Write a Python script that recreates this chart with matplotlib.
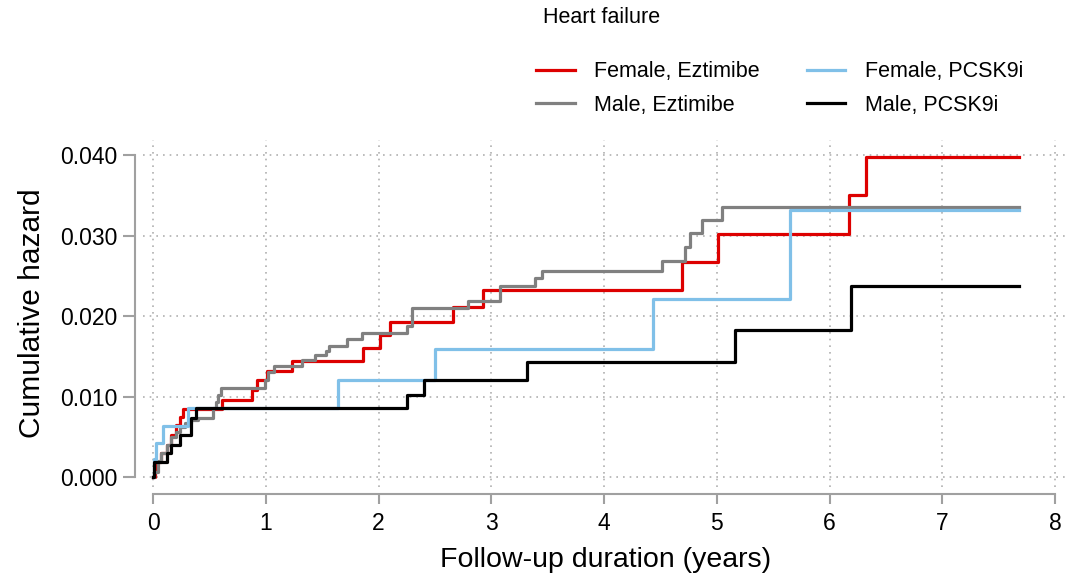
import numpy as np
import matplotlib
matplotlib.use('Agg')
import matplotlib.pyplot as plt

# step data (years, cumulative hazard)
fe_t = [0, 0.02, 0.07, 0.12, 0.16, 0.20, 0.24, 0.27, 0.61, 0.88, 0.92, 1.01, 1.23,
        1.86, 2.01, 2.10, 2.66, 2.93, 4.69, 5.01, 6.17, 6.32, 7.68]
fe_h = [0, 0.0019, 0.0030, 0.0040, 0.0052, 0.0065, 0.0075, 0.0084, 0.0096, 0.0108,
        0.0120, 0.0132, 0.0144, 0.0160, 0.0176, 0.0193, 0.0211, 0.0232, 0.0267,
        0.0302, 0.0350, 0.0398, 0.0398]

me_t = [0, 0.01, 0.04, 0.07, 0.12, 0.16, 0.20, 0.24, 0.28, 0.34, 0.40, 0.53, 0.56,
        0.58, 0.60, 0.99, 1.02, 1.07, 1.32, 1.44, 1.53, 1.56, 1.72, 1.85, 2.25,
        2.30, 2.79, 3.08, 3.39, 3.45, 4.51, 4.72, 4.76, 4.87, 5.05, 7.68]
me_h = [0, 0.0006, 0.0020, 0.0030, 0.0040, 0.0050, 0.0056, 0.0062, 0.0067, 0.0071,
        0.0073, 0.0086, 0.0093, 0.0102, 0.0110, 0.0121, 0.0130, 0.0138, 0.0145,
        0.0151, 0.0156, 0.0163, 0.0172, 0.0179, 0.0188, 0.0210, 0.0219, 0.0237,
        0.0247, 0.0256, 0.0268, 0.0286, 0.0303, 0.0319, 0.0336, 0.0336]

fp_t = [0, 0.01, 0.03, 0.09, 0.31, 1.64, 2.50, 4.43, 5.65, 7.68]
fp_h = [0, 0.0022, 0.0042, 0.0063, 0.0086, 0.0120, 0.0159, 0.0221, 0.0332, 0.0332]

mp_t = [0, 0.01, 0.12, 0.16, 0.24, 0.34, 0.38, 2.25, 2.40, 3.32, 5.16, 6.19, 7.68]
mp_h = [0, 0.0019, 0.0030, 0.0040, 0.0052, 0.0073, 0.0086, 0.0102, 0.0120, 0.0143,
        0.0183, 0.0237, 0.0237]

labels = ['Female, Eztimibe', 'Male, Eztimibe', 'Female, PCSK9i', 'Male, PCSK9i']
colors = ['#dd0000', '#808080', '#80c0e8', '#000000']
x_ticks = [0, 1, 2, 3, 4, 5, 6, 7, 8]
y_ticks = [0.0, 0.01, 0.02, 0.03, 0.04]

plt.rcParams['font.family'] = ['Liberation Sans', 'DejaVu Sans']

fig = plt.figure(figsize=(10.71, 5.81), dpi=100)
ax = fig.add_axes([0.1335, 0.1618, 0.8637, 0.597])

series = [(fe_t, fe_h), (me_t, me_h), (fp_t, fp_h), (mp_t, mp_h)]
lines = []
for (t, h), c, lab in zip(series, colors, labels):
    ln, = ax.step(t, h, where='post', color=c, lw=2.3, label=lab, zorder=3)
    lines.append(ln)

ax.set_xlim(-0.089, 8.115)
ax.set_ylim(-0.00124, 0.04186)
ax.set_xticks(x_ticks)
ax.set_yticks(y_ticks)
ax.set_yticklabels(['%.3f' % v for v in y_ticks])

ax.grid(True, color='#b0b0b0', linestyle=(0, (1, 3)), lw=1.2)
ax.set_axisbelow(True)

for s in ['top', 'right']:
    ax.spines[s].set_visible(False)
ax.spines['left'].set_position(('outward', 6))
ax.spines['bottom'].set_position(('outward', 5))
ax.spines['left'].set_bounds(0, 0.04)
ax.spines['bottom'].set_bounds(0, 8)
for s in ['left', 'bottom']:
    ax.spines[s].set_color('#a0a0a0')
    ax.spines[s].set_linewidth(1.5)
ax.tick_params(axis='both', colors='#a0a0a0', width=1.5, labelcolor='black', labelsize=16.5)
ax.tick_params(axis='y', length=8.5, pad=4)
ax.tick_params(axis='x', length=7, pad=6)

ax.set_xlabel('Follow-up duration (years)', fontsize=20.5, labelpad=9)
ax.set_ylabel('Cumulative hazard', fontsize=21.5, labelpad=10)

fig.text(0.507, 0.97, 'Heart failure', fontsize=15.5, ha='left', va='center')
fig.legend(handles=lines, loc='upper left', bbox_to_anchor=(0.4825, 0.928), ncol=2,
           frameon=False, fontsize=15.5, handlelength=1.8, handletextpad=0.9,
           columnspacing=2.17, labelspacing=0.59)

fig.savefig('out.png', dpi=100)
